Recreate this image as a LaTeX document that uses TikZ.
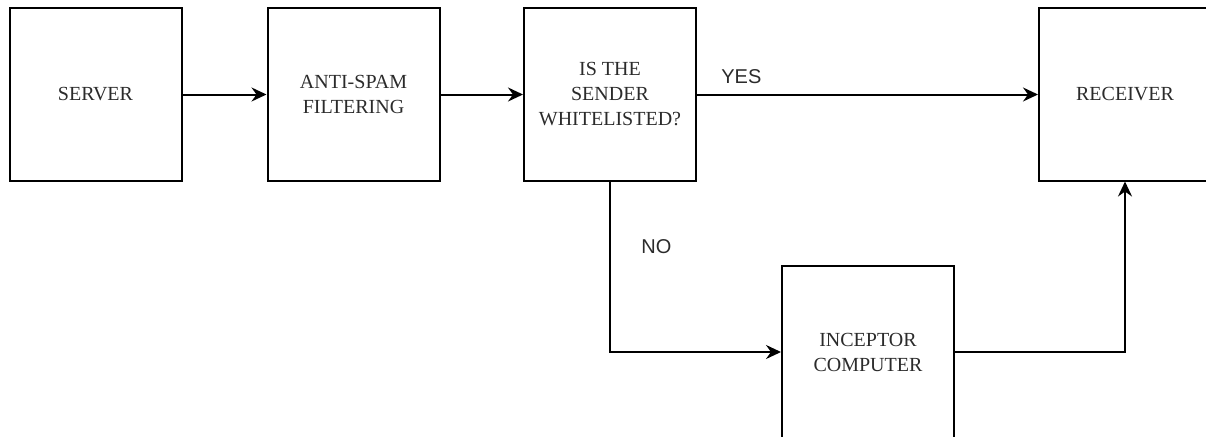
\documentclass[tikz,border=0pt]{standalone}
\usepackage{fontspec}
\setmainfont{Liberation Serif}
\newfontfamily\answerfont{Liberation Sans}
\usetikzlibrary{arrows.meta, positioning}
\definecolor{flowtext}{HTML}{2B2B2B}

\begin{document}
\begin{tikzpicture}[x=1pt, y=-1pt,
  blockbox/.style={draw=black, line width=2pt, minimum width=172pt, minimum height=172pt,
                   inner sep=0pt, align=center, text=flowtext, font=\fontsize{20}{25}\selectfont},
  flow/.style={-{Stealth[length=15pt, width=14pt, inset=5pt]}, line width=2pt},
  answer/.style={text=flowtext, font=\answerfont\fontsize{20}{24}\selectfont}]
  \useasboundingbox (0,0) rectangle (1206,436);
  \clip (0,0) rectangle (1206,436);

  % blocks
  \node[blockbox] (server)    at (95.5,94.5) {SERVER};
  \node[blockbox] (antispam)  at (353.5,94.5) {ANTI-SPAM\\FILTERING};
  \node[blockbox] (whitelist) at (610,94.5) {IS THE\\SENDER\\WHITELISTED?};
  \node[blockbox] (receiver)  at (1125,94.5) {RECEIVER};
  \node[blockbox] (inceptor)  at (868,352) {INCEPTOR\\COMPUTER};

  % connectors
  \draw[flow] (server) -- (antispam);
  \draw[flow] (antispam) -- (whitelist);
  \draw[flow] (whitelist) -- node[answer, pos=0.13, above=6pt] {YES} (receiver);
  \draw[flow] (whitelist.south) |- node[answer, pos=0.19, right=27pt] {NO} (inceptor.west);
  \draw[flow] (inceptor.east) -| (receiver.south);
\end{tikzpicture}
\end{document}
